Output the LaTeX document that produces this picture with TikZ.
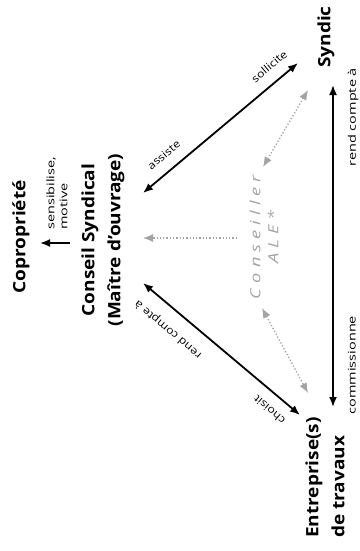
\documentclass[tikz,border=0pt]{standalone}
\usepackage{fontspec}
\setmainfont{Open Sans}
\newfontfamily\alefont{Open Sans}[LetterSpace=28]
\usetikzlibrary{arrows.meta, calc}
\definecolor{alegray}{gray}{0.64}
\newcommand\longtext[1]{\scalebox{1.38}[1]{#1}} % upright labels are drawn stretched
\newcommand\slopetext[1]{\scalebox{1.17}[1]{#1}} % labels on the slanted arrows
\tikzset{
    >={Latex[length=10pt,width=8pt]}, % tip used on every connector
    actor/.style={rotate=90, xscale=1.12, font=\bfseries\fontsize{17}{26}\selectfont, align=center, inner sep=0pt}, % the parties
    note/.style={font=\fontsize{10.5}{13}\selectfont, inner sep=1pt}, % small labels on the arrows
    link/.style={<->, line width=1.8pt}, % black relations
    hint/.style={<->, alegray, line width=1.3pt, dotted}, % advice of the ALE
    }

\begin{document}
\begin{tikzpicture}[x=1pt, y=-1pt]
\useasboundingbox (0,0) rectangle (359,551);
\node[actor] (copro) at (21,237) {Copropriété};
\node[actor] (conseil) at (103,240) {Conseil Syndical\\(Maître d’ouvrage)};
\node[actor] (syndic) at (326,37) {Syndic};
\node[actor, anchor=west, align=left] (entreprise) at (325,538) {Entreprise(s)\\de travaux};
\node[rotate=90, xscale=1.3, align=center, text=alegray, font=\alefont\itshape\fontsize{14}{18}\selectfont] (ale) at (264,237) {Conseiller\\ALE*};
\node[note, rotate=90, anchor=west, align=left] (sensib) at (57,231) {\longtext{sensibilise,}\\\longtext{motive}};

\draw[->, line width=1.8pt] ($(conseil)+(-33,3)$) -- ($(copro)+(19,6)$);
\draw[link] ($(conseil)+(40,-47)$) -- node[note, pos=0.2, sloped, above=10pt] {\slopetext{assiste}} node[note, pos=0.88, sloped, above=10pt] {\slopetext{sollicite}} ($(syndic)+(-28,26)$);
\draw[link] ($(entreprise.west)+(-25,-123)$) -- node[note, pos=0.13, sloped, allow upside down, above=10pt] {\slopetext{choisit}} node[note, pos=0.76, sloped, allow upside down, above=12pt] {\slopetext{rend compte à}} ($(conseil)+(40,43)$);
\draw[link] ($(entreprise.west)+(8,-131)$) -- node[note, pos=0.13, sloped, below=13pt] {\longtext{commissionne}} node[note, pos=0.9, sloped, below=13pt] {\longtext{rend compte à}} ($(syndic)+(7,48)$);

\draw[hint, ->] ($(ale)+(-27,1)$) -- ($(conseil)+(40,-2)$);
\draw[hint] ($(ale)+(-1,-70)$) -- ($(syndic)+(-18,53)$);
\draw[hint] ($(ale)+(-2,71)$) -- ($(entreprise.west)+(-17,-145)$);
\end{tikzpicture}
\end{document}
